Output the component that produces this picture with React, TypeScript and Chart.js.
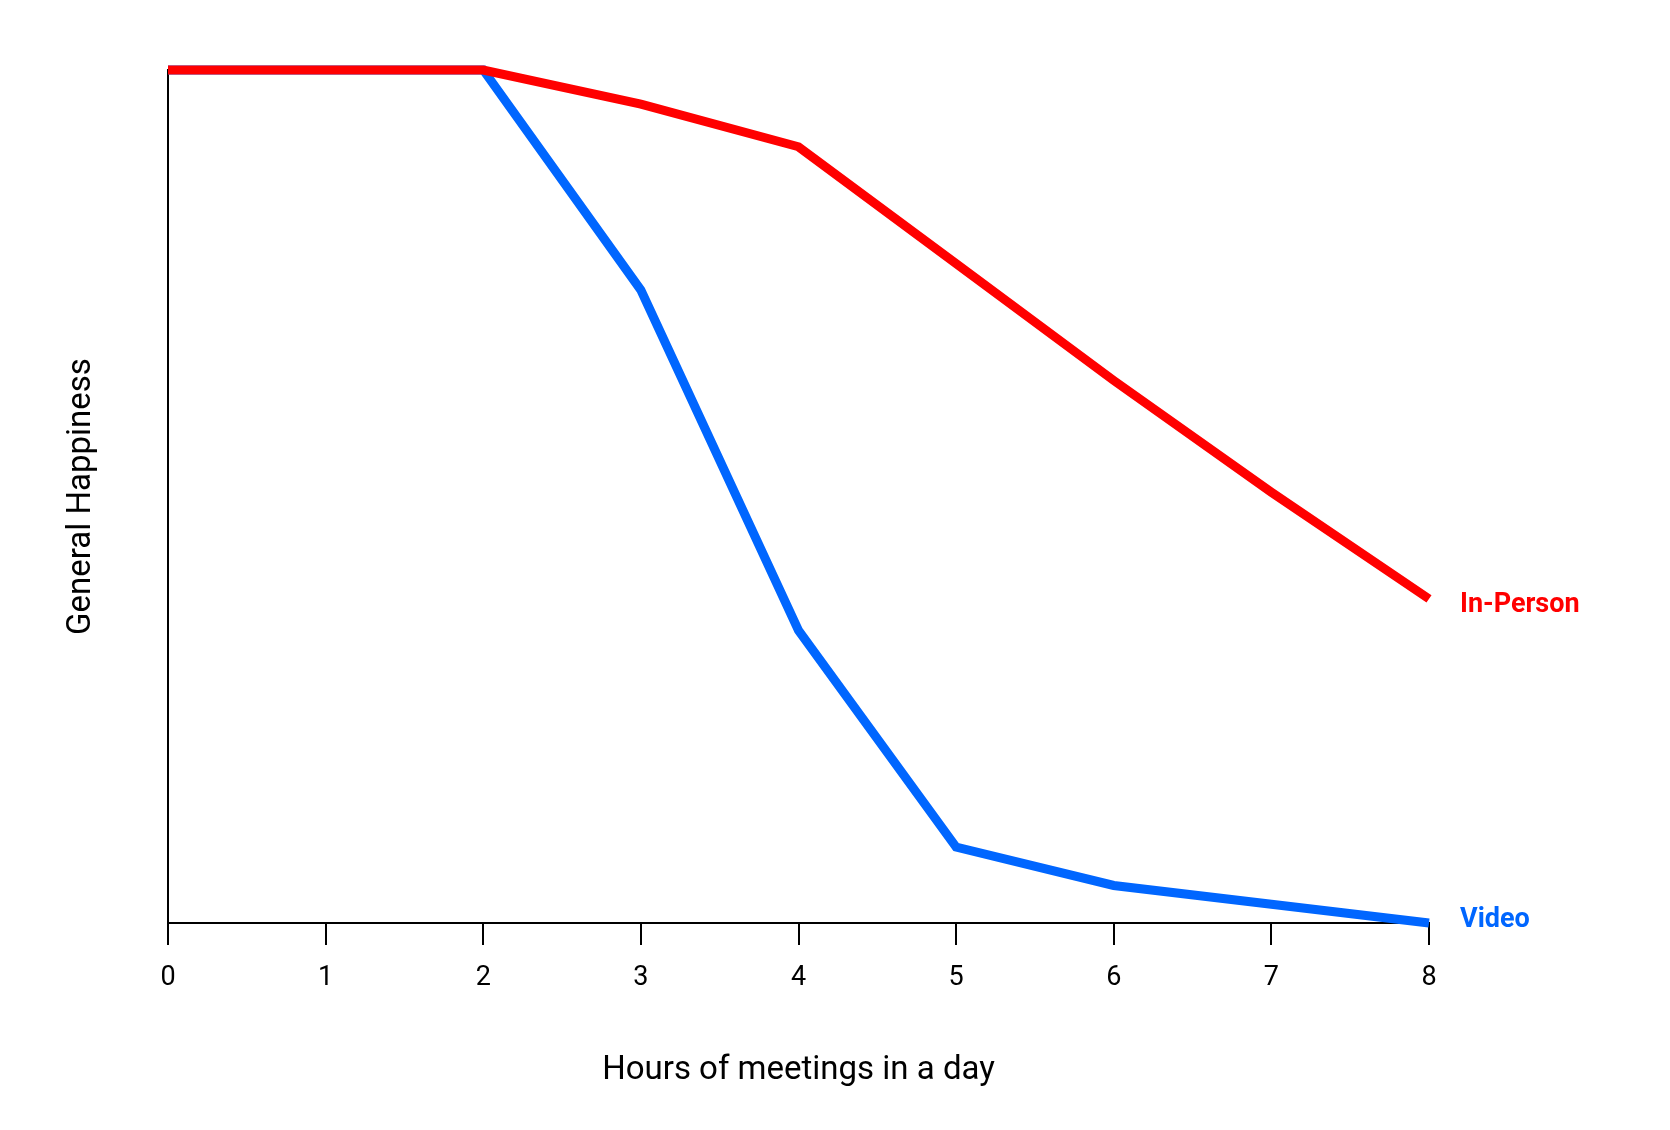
import React, { useEffect, useRef } from "react";
import { Chart, registerables } from "chart.js";
Chart.register(...registerables);

const hours = ["0", "1", "2", "3", "4", "5", "6", "7", "8"];
const inPerson = [100, 100, 100, 96, 91, 77.3, 63.6, 50.5, 38.0];
const video = [100, 100, 100, 74.2, 34.3, 8.9, 4.4, 2.2, 0];

const endLabels = {
  id: "endLabels",
  afterDatasetsDraw(chart: any) {
    const ctx = chart.ctx;
    ctx.save();
    ctx.font = "bold 27px Roboto";
    ctx.textBaseline = "middle";
    ctx.textAlign = "left";
    chart.data.datasets.forEach((ds: any, i: number) => {
      const meta = chart.getDatasetMeta(i);
      const p = meta.data[meta.data.length - 1];
      ctx.fillStyle = ds.borderColor;
      ctx.fillText(ds.label, p.x + 31, p.y + (i === 0 ? 6 : -3));
    });
    ctx.restore();
  },
};

export default function App() {
  const ref = useRef<HTMLCanvasElement>(null);
  useEffect(() => {
    const chart = new Chart(ref.current!, {
      type: "line",
      data: {
        labels: hours,
        datasets: [
          { label: "In-Person", data: inPerson, borderColor: "#ff0000", borderWidth: 9, pointRadius: 0, tension: 0, clip: false as any },
          { label: "Video", data: video, borderColor: "#0066ff", borderWidth: 9, pointRadius: 0, tension: 0, clip: false as any },
        ],
      },
      options: {
        animation: false,
        responsive: false,
        layout: { padding: { top: 62, right: 233, bottom: 0, left: 0 } },
        plugins: { legend: { display: false }, tooltip: { enabled: false } },
        scales: {
          x: {
            grid: { drawOnChartArea: false, tickLength: 22, tickColor: "#000", lineWidth: 2 },
            border: { color: "#000", width: 2 },
            ticks: { color: "#000", font: { family: "Roboto", size: 27 }, padding: 17, maxRotation: 0 },
            title: { display: true, text: "Hours of meetings in a day", color: "#000", font: { family: "Roboto", size: 33 }, padding: { top: 0, bottom: 31 } },
            afterFit: (s: any) => { s.height = 199; },
          },
          y: {
            min: 0, max: 100,
            grid: { display: false },
            border: { color: "#000", width: 2 },
            ticks: { display: false },
            title: { display: true, text: "General Happiness", color: "#000", font: { family: "Roboto", size: 33 }, padding: { top: 54, bottom: 0 } },
            afterFit: (s: any) => { s.width = 160; },
          },
        },
      },
      plugins: [endLabels],
    });
    return () => chart.destroy();
  }, []);
  return <div style={{ background: "#fff" }}><canvas ref={ref} width={1654} height={1114} /></div>;
}
